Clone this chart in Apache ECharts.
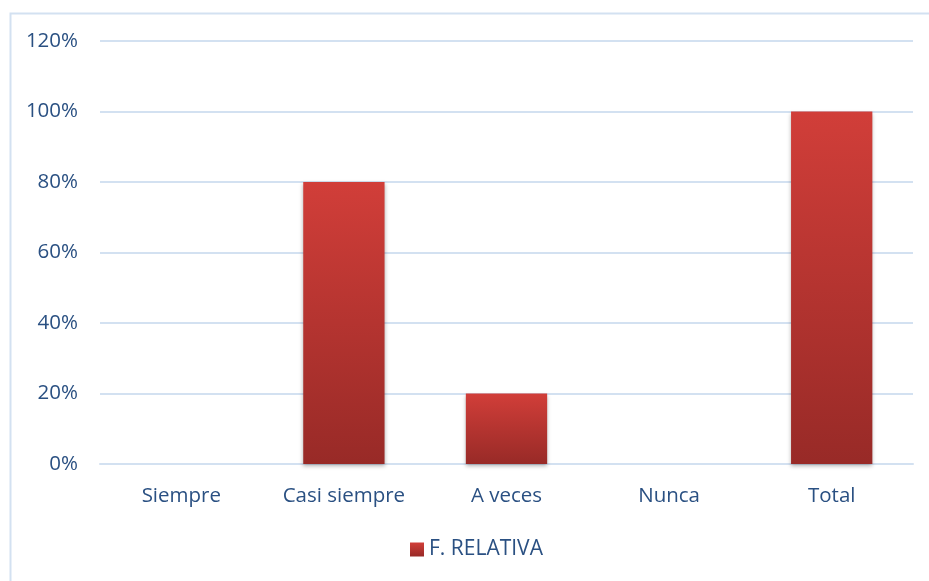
<!DOCTYPE html>
<html>
<head>
<meta charset="utf-8">
<script src="https://cdn.jsdelivr.net/npm/echarts@6/dist/echarts.min.js"></script>
<style>
  html, body { margin: 0; padding: 0; background: #fff; }
  #chart { width: 929px; height: 581px; }
</style>
</head>
<body>
<div id="chart"></div>
<script>
const categories = ["Siempre", "Casi siempre", "A veces", "Nunca", "Total"];
const relativa = [0, 0.8, 0.2, 0, 1];
const yTicks = [0, 0.2, 0.4, 0.6, 0.8, 1, 1.2];

const textColor = "#2a5082";
const fontFamily = "'Open Sans', 'Liberation Sans', sans-serif";

const chart = echarts.init(document.getElementById("chart"));
const option = {
  animation: false,
  graphic: [
    {
      type: "rect",
      left: 8,
      top: 11,
      shape: { width: 940, height: 600 },
      style: { fill: "none", stroke: "#d3e1f1", lineWidth: 2 },
      silent: true,
    },
  ],
  grid: { left: 100, right: 16, top: 41, bottom: 117, containLabel: false },
  legend: {
    data: ["F. RELATIVA"],
    icon: "rect",
    bottom: 16,
    left: 405,
    itemWidth: 14,
    itemHeight: 14,
    itemGap: 6,
    textStyle: { color: textColor, fontSize: 21, fontFamily: fontFamily },
  },
  xAxis: {
    type: "category",
    data: categories,
    axisTick: { show: false },
    axisLine: { lineStyle: { color: "#d3e1f1", width: 2 } },
    axisLabel: {
      color: textColor,
      fontSize: 20.5,
      fontFamily: fontFamily,
      margin: 22,
    },
  },
  yAxis: {
    type: "value",
    min: 0,
    max: 1.2,
    interval: 0.2,
    axisLine: { show: false },
    axisTick: { show: false },
    splitLine: { lineStyle: { color: "#d3e1f1", width: 2 } },
    axisLabel: {
      color: textColor,
      fontSize: 20.5,
      fontFamily: fontFamily,
      margin: 22,
      formatter: (v) => {
        const t = yTicks.find((x) => Math.abs(x - v) < 1e-9);
        return Math.round((t ?? v) * 100) + "%";
      },
    },
  },
  series: [
    {
      name: "F. RELATIVA",
      type: "bar",
      data: relativa,
      barWidth: "50%",
      itemStyle: {
        color: new echarts.graphic.LinearGradient(0, 0, 0, 1, [
          { offset: 0, color: "#d13e39" },
          { offset: 1, color: "#982a27" },
        ]),
        shadowColor: "rgba(0,0,0,0.3)",
        shadowBlur: 4,
        shadowOffsetY: 2,
      },
    },
  ],
};
chart.setOption(option);
</script>
</body>
</html>
